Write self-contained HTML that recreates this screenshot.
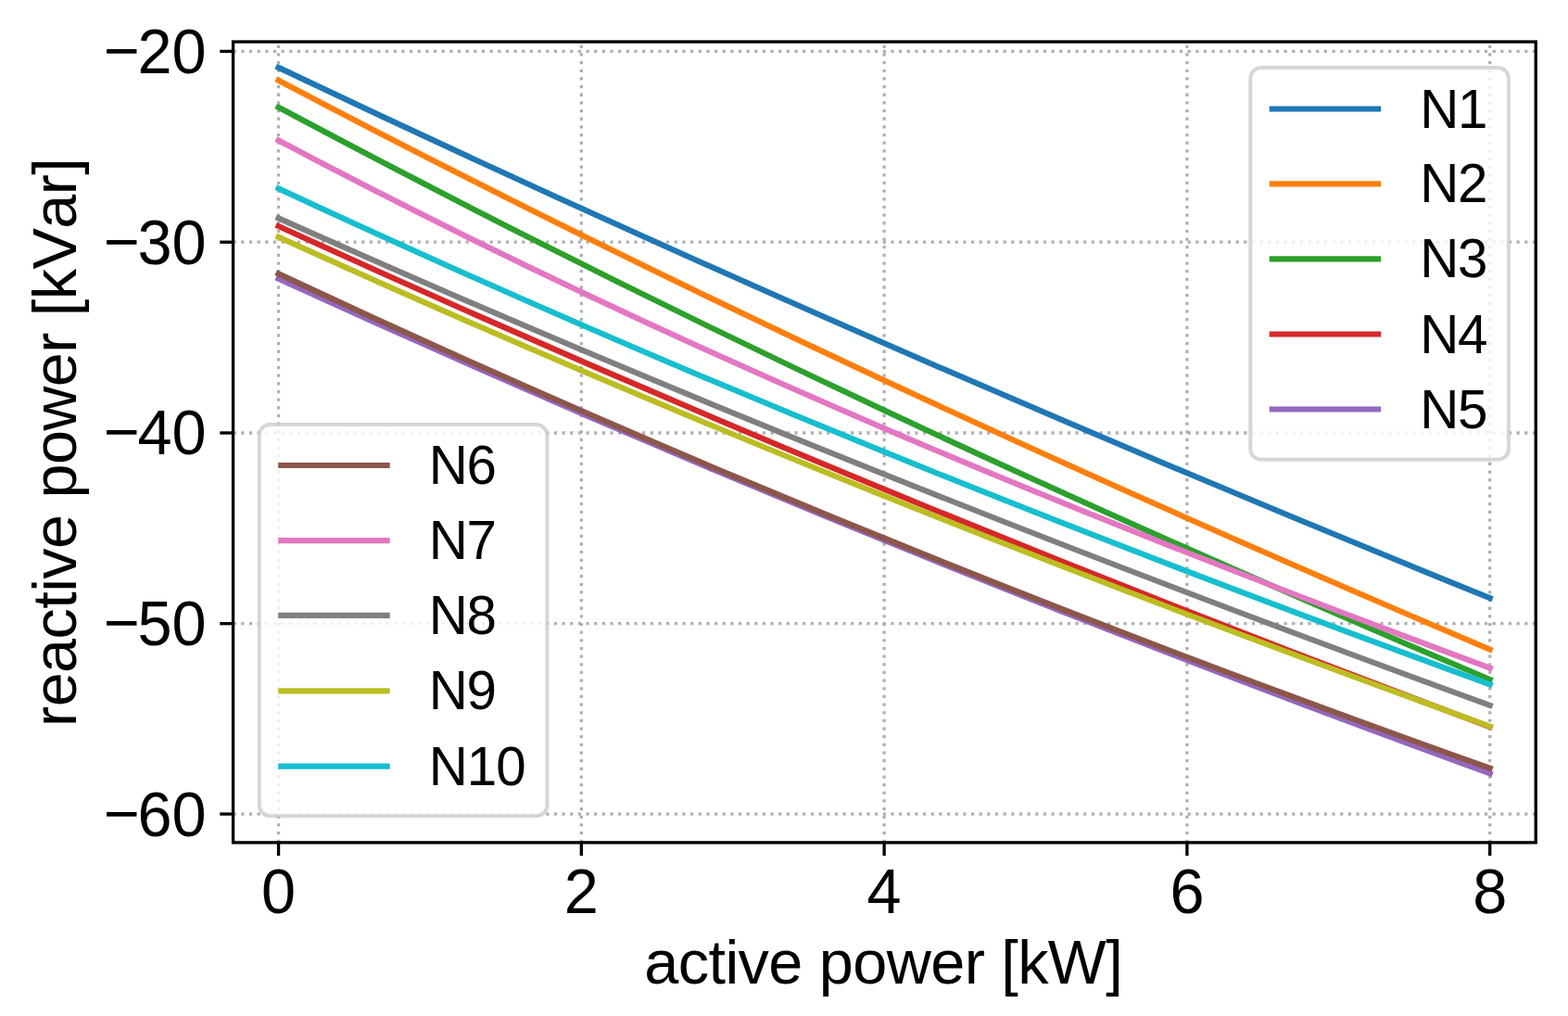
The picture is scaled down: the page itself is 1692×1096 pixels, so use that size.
<!DOCTYPE html><html><head><meta charset="utf-8"><title>reactive vs active power</title>
<style>html,body{margin:0;padding:0;background:#fff;}svg{display:block;}text{font-family:"Liberation Sans", Arial, Helvetica, sans-serif;fill:#000;font-kerning:none;}</style></head><body>
<svg width="1692" height="1096" viewBox="0 0 1692 1096">
<rect x="0" y="0" width="1692" height="1096" fill="#ffffff"/>
<defs><clipPath id="ax"><rect x="251.55" y="45.05" width="1405.70" height="863.85"/></clipPath></defs>
<g clip-path="url(#ax)" stroke="#b0b0b0" stroke-width="3.33" stroke-dasharray="3.27 5.386" fill="none">
<line x1="300.55" y1="908.90" x2="300.55" y2="45.05"/>
<line x1="627.34" y1="908.90" x2="627.34" y2="45.05"/>
<line x1="954.13" y1="908.90" x2="954.13" y2="45.05"/>
<line x1="1280.92" y1="908.90" x2="1280.92" y2="45.05"/>
<line x1="1607.71" y1="908.90" x2="1607.71" y2="45.05"/>
<line x1="251.55" y1="55.40" x2="1657.25" y2="55.40"/>
<line x1="251.55" y1="261.20" x2="1657.25" y2="261.20"/>
<line x1="251.55" y1="467.00" x2="1657.25" y2="467.00"/>
<line x1="251.55" y1="672.70" x2="1657.25" y2="672.70"/>
<line x1="251.55" y1="878.10" x2="1657.25" y2="878.10"/>
</g>
<g clip-path="url(#ax)" fill="none" stroke-width="6.2" stroke-linecap="square" stroke-linejoin="round">
<path d="M300.55,72.83 C736.27,279.96 1171.99,468.46 1607.71,645.17" stroke="#1f77b4"/>
<path d="M300.55,86.66 C736.27,316.35 1171.99,515.61 1607.71,700.62" stroke="#ff7f0e"/>
<path d="M300.55,115.84 C736.27,348.54 1171.99,548.83 1607.71,733.00" stroke="#2ca02c"/>
<path d="M300.55,244.02 C736.27,443.01 1171.99,621.75 1607.71,784.07" stroke="#d62728"/>
<path d="M300.55,300.61 C736.27,500.02 1171.99,676.15 1607.71,834.32" stroke="#9467bd"/>
<path d="M300.55,295.38 C736.27,499.90 1171.99,674.12 1607.71,828.70" stroke="#8c564b"/>
<path d="M300.55,151.58 C736.27,382.16 1171.99,559.52 1607.71,720.57" stroke="#e377c2"/>
<path d="M300.55,235.32 C736.27,430.39 1171.99,602.27 1607.71,760.87" stroke="#7f7f7f"/>
<path d="M300.55,255.66 C736.27,454.28 1171.99,626.46 1607.71,783.55" stroke="#bcbd22"/>
<path d="M300.55,203.32 C736.27,406.71 1171.99,579.32 1607.71,738.38" stroke="#17becf"/>
</g>
<rect x="251.55" y="45.05" width="1405.70" height="863.85" fill="none" stroke="#000" stroke-width="3.33" stroke-linejoin="miter"/>
<g stroke="#000" stroke-width="3.33">
<line x1="300.55" y1="908.90" x2="300.55" y2="923.20"/>
<line x1="627.34" y1="908.90" x2="627.34" y2="923.20"/>
<line x1="954.13" y1="908.90" x2="954.13" y2="923.20"/>
<line x1="1280.92" y1="908.90" x2="1280.92" y2="923.20"/>
<line x1="1607.71" y1="908.90" x2="1607.71" y2="923.20"/>
<line x1="251.55" y1="55.40" x2="237.25" y2="55.40"/>
<line x1="251.55" y1="261.20" x2="237.25" y2="261.20"/>
<line x1="251.55" y1="467.00" x2="237.25" y2="467.00"/>
<line x1="251.55" y1="672.70" x2="237.25" y2="672.70"/>
<line x1="251.55" y1="878.10" x2="237.25" y2="878.10"/>
</g>
<g font-size="66.67">
<text transform="translate(300.55,984.8) scale(1,1.02)" x="0" y="0" text-anchor="middle">0</text>
<text transform="translate(627.34,984.8) scale(1,1.02)" x="0" y="0" text-anchor="middle">2</text>
<text transform="translate(954.13,984.8) scale(1,1.02)" x="0" y="0" text-anchor="middle">4</text>
<text transform="translate(1280.92,984.8) scale(1,1.02)" x="0" y="0" text-anchor="middle">6</text>
<text transform="translate(1607.71,984.8) scale(1,1.02)" x="0" y="0" text-anchor="middle">8</text>
<text transform="translate(222.6,79.00) scale(1,1.02)" x="0" y="0" text-anchor="end"><tspan dy="-1.0">−</tspan><tspan dx="-2.5" dy="1.0">20</tspan></text>
<text transform="translate(222.6,284.60) scale(1,1.02)" x="0" y="0" text-anchor="end"><tspan dy="-1.0">−</tspan><tspan dx="-2.5" dy="1.0">30</tspan></text>
<text transform="translate(222.6,490.20) scale(1,1.02)" x="0" y="0" text-anchor="end"><tspan dy="-1.0">−</tspan><tspan dx="-2.5" dy="1.0">40</tspan></text>
<text transform="translate(222.6,696.30) scale(1,1.02)" x="0" y="0" text-anchor="end"><tspan dy="-1.0">−</tspan><tspan dx="-2.5" dy="1.0">50</tspan></text>
<text transform="translate(222.6,902.10) scale(1,1.02)" x="0" y="0" text-anchor="end"><tspan dy="-1.0">−</tspan><tspan dx="-2.5" dy="1.0">60</tspan></text>
</g>
<text x="953.5" y="1060.8" font-size="66.67" text-anchor="middle" textLength="516.4" lengthAdjust="spacing">active power [kW]</text>
<text transform="translate(82.3,477.05) rotate(-90)" x="0" y="0" font-size="66.67" text-anchor="middle" textLength="613.8" lengthAdjust="spacing">reactive power [kVar]</text>
<rect x="1349.30" y="72.90" width="278.60" height="422.90" rx="11.67" ry="11.67" fill="#ffffff" fill-opacity="0.8" stroke="#cccccc" stroke-opacity="0.8" stroke-width="4.0"/>
<line x1="1369.70" y1="117.50" x2="1490.20" y2="117.50" stroke="#1f77b4" stroke-width="6.2"/>
<text x="1532.30" y="137.50" font-size="58.33" textLength="73.1" lengthAdjust="spacing">N1</text>
<line x1="1369.70" y1="198.30" x2="1490.20" y2="198.30" stroke="#ff7f0e" stroke-width="6.2"/>
<text x="1532.30" y="218.30" font-size="58.33" textLength="73.1" lengthAdjust="spacing">N2</text>
<line x1="1369.70" y1="279.40" x2="1490.20" y2="279.40" stroke="#2ca02c" stroke-width="6.2"/>
<text x="1532.30" y="299.40" font-size="58.33" textLength="73.1" lengthAdjust="spacing">N3</text>
<line x1="1369.70" y1="360.50" x2="1490.20" y2="360.50" stroke="#d62728" stroke-width="6.2"/>
<text x="1532.30" y="380.50" font-size="58.33" textLength="73.1" lengthAdjust="spacing">N4</text>
<line x1="1369.70" y1="441.50" x2="1490.20" y2="441.50" stroke="#9467bd" stroke-width="6.2"/>
<text x="1532.30" y="461.50" font-size="58.33" textLength="73.1" lengthAdjust="spacing">N5</text>
<rect x="279.80" y="458.00" width="310.60" height="422.30" rx="11.67" ry="11.67" fill="#ffffff" fill-opacity="0.8" stroke="#cccccc" stroke-opacity="0.8" stroke-width="4.0"/>
<line x1="300.20" y1="502.00" x2="420.70" y2="502.00" stroke="#8c564b" stroke-width="6.2"/>
<text x="462.80" y="522.00" font-size="58.33" textLength="73.1" lengthAdjust="spacing">N6</text>
<line x1="300.20" y1="583.20" x2="420.70" y2="583.20" stroke="#e377c2" stroke-width="6.2"/>
<text x="462.80" y="603.20" font-size="58.33" textLength="73.1" lengthAdjust="spacing">N7</text>
<line x1="300.20" y1="663.90" x2="420.70" y2="663.90" stroke="#7f7f7f" stroke-width="6.2"/>
<text x="462.80" y="683.90" font-size="58.33" textLength="73.1" lengthAdjust="spacing">N8</text>
<line x1="300.20" y1="745.30" x2="420.70" y2="745.30" stroke="#bcbd22" stroke-width="6.2"/>
<text x="462.80" y="765.30" font-size="58.33" textLength="73.1" lengthAdjust="spacing">N9</text>
<line x1="300.20" y1="826.60" x2="420.70" y2="826.60" stroke="#17becf" stroke-width="6.2"/>
<text x="462.80" y="846.60" font-size="58.33" textLength="104.9" lengthAdjust="spacing">N10</text>
</svg></body></html>
